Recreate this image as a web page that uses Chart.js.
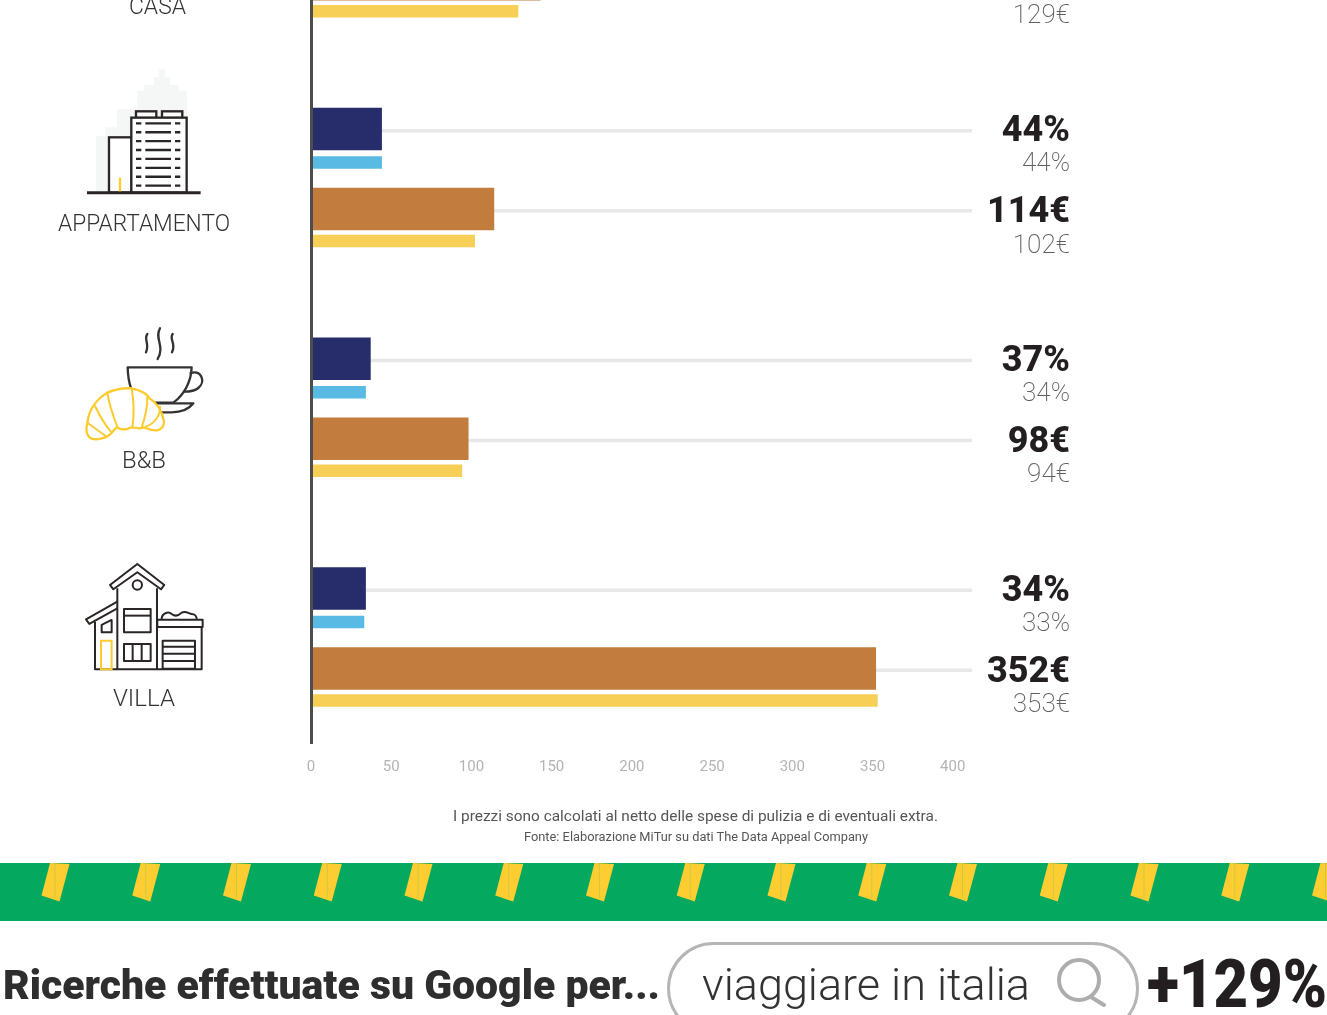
<!DOCTYPE html>
<html>
<head>
<meta charset="utf-8">
<title>Strutture ricettive</title>
<script src="https://cdn.jsdelivr.net/npm/chart.js@4"></script>
<style>
html, body { margin: 0; padding: 0; background: #fff; }
#page { position: relative; width: 1327px; height: 1015px; overflow: hidden; }
#chart { position: absolute; left: 0; top: 0; }
#art { position: absolute; left: 0; top: 0; pointer-events: none; font-family: Roboto, sans-serif; }
</style>
</head>
<body>
<div id="page">
<canvas id="chart" width="1327" height="1015" style="width:1327px;height:1015px"></canvas>
<svg id="art" width="1327" height="1015" viewBox="0 0 1327 1015" xmlns="http://www.w3.org/2000/svg">
  <!-- group names -->
  <g fill="#333" font-size="24" font-weight="300" text-anchor="start">
    <text x="129" y="14" textLength="57" lengthAdjust="spacingAndGlyphs">CASA</text>
    <text x="58" y="231" textLength="172" lengthAdjust="spacingAndGlyphs">APPARTAMENTO</text>
    <text x="122" y="468" textLength="44" lengthAdjust="spacingAndGlyphs">B&amp;B</text>
    <text x="113" y="706" textLength="62" lengthAdjust="spacingAndGlyphs">VILLA</text>
  </g>

  <!-- apartment icon -->
  <g transform="translate(0,0) scale(0.3333)">
    <path fill="#f5f7f6" d="M288 578V408H316V382H351V327H411V272H433V254H462V231H476V208H495V231H510V254H537V272H561V578Z"/>
    <g fill="#fff" stroke="#2b2626" stroke-width="7">
      <rect x="327" y="412" width="68" height="166"/>
      <rect x="408" y="334" width="61" height="20"/>
      <rect x="486" y="334" width="61" height="20"/>
      <rect x="394" y="353" width="166" height="225"/>
    </g>
    <path d="M261 578H602" stroke="#2b2626" stroke-width="9" fill="none"/>
    <path d="M360 533V574" stroke="#fecb2f" stroke-width="7" fill="none"/>
    <g id="floors" stroke="#2b2626" stroke-width="7" fill="none"></g>
  </g>

  <!-- coffee and croissant icon -->
  <g transform="translate(60,310) scale(0.3333)" fill="none" stroke-width="7" stroke-linecap="round" stroke-linejoin="round">
    <g stroke="#333">
      <path d="M262 72C250 88 270 100 258 127"/>
      <path d="M300 55C282 84 316 108 293 147"/>
      <path d="M338 72C326 88 350 100 336 127"/>
      <path d="M203 172H395C394 215 372 255 340 278H240C215 255 204 215 203 172Z"/>
      <path d="M392 189C425 180 438 215 415 234C402 245 385 245 372 245"/>
      <path d="M265 280H400C385 300 360 307 335 307H300"/>
    </g>
    <path stroke="#fecb2f" stroke-width="7" fill="#fff" d="M82 340C85 305 105 270 142 248C165 238 195 234 215 235C240 240 262 252 268 265C285 275 305 295 312 335C312 355 295 365 275 360L250 352L240 355L215 352C200 360 185 362 170 352L155 368C140 385 105 395 88 382C78 372 78 355 82 340Z"/>
    <g stroke="#fecb2f" stroke-width="6">
      <path d="M142 248C148 285 160 320 172 350"/>
      <path d="M215 235C222 275 222 320 217 352"/>
      <path d="M262 262C262 295 255 325 245 352"/>
      <path d="M105 288C118 315 135 345 155 368"/>
      <path d="M85 340C100 352 120 365 135 377"/>
      <path d="M300 290C302 315 285 340 258 350"/>
    </g>
  </g>

  <!-- villa icon -->
  <g transform="translate(60,310) scale(0.3333)" fill="none" stroke="#2b2626" stroke-width="6" stroke-linejoin="round">
    <path d="M150 825L232 762L313 825L303 838L232 787L160 838Z"/>
    <circle cx="232" cy="825" r="14"/>
    <path d="M172 835V1078M291 835V1078"/>
    <path d="M172 875L78 928L88 942L172 895"/>
    <path d="M105 935V1078H425V951"/>
    <path d="M125 945L155 930V967H125Z"/>
    <rect x="123" y="992" width="32" height="86" stroke="#fecb2f"/>
    <rect x="192" y="897" width="80" height="70"/>
    <path d="M192 917H272"/>
    <rect x="192" y="1002" width="80" height="51"/>
    <path d="M218 1002V1053M245 1002V1053"/>
    <rect x="292" y="929" width="136" height="22"/>
    <rect x="308" y="992" width="97" height="84"/>
    <path d="M308 1010H405M308 1031H405M308 1053H405"/>
    <path d="M305 927C305 910 325 903 335 912C345 920 355 918 365 908C378 902 388 912 395 912C405 912 410 920 410 927"/>
  </g>

  <!-- footnotes -->
  <g text-anchor="start" fill="#555">
    <text x="453" y="821" font-size="15.5" textLength="485" lengthAdjust="spacingAndGlyphs">I prezzi sono calcolati al netto delle spese di pulizia e di eventuali extra.</text>
    <text x="524" y="841" font-size="12.5" textLength="344" lengthAdjust="spacingAndGlyphs">Fonte: Elaborazione MiTur su dati The Data Appeal Company</text>
  </g>

  <!-- green ribbon -->
  <rect x="0" y="863" width="1327" height="58" fill="#04a85f"/>
  <g id="flags"></g>

  <!-- search line -->
  <text x="3" y="999" font-size="40" font-weight="900" fill="#2e2e2e" textLength="657" lengthAdjust="spacingAndGlyphs">Ricerche effettuate su Google per...</text>
  <rect x="668.5" y="943.5" width="469" height="90" rx="45" fill="#fff" stroke="#b5b5b5" stroke-width="3"/>
  <text x="702" y="1000" font-size="44" font-weight="300" fill="#333" textLength="328" lengthAdjust="spacingAndGlyphs">viaggiare in italia</text>
  <circle cx="1079" cy="980" r="20" fill="none" stroke="#adadad" stroke-width="4"/>
  <path d="M1091 997L1104 1005" stroke="#adadad" stroke-width="4" stroke-linecap="round" fill="none"/>
  <text x="1147" y="1007" font-size="66" font-weight="900" fill="#231f20" textLength="180" lengthAdjust="spacingAndGlyphs">+129%</text>
</svg>
</div>
<script>
// Dati
const structures = ['CASA', 'APPARTAMENTO', 'B&B', 'VILLA'];
const occupancy = [null, 44, 37, 34];
const occupancyPrev = [null, 44, 34, 33];
const price = [143, 114, 98, 352];
const pricePrev = [129, 102, 94, 353];
const xTicks = [0, 50, 100, 150, 200, 250, 300, 350, 400];

const points = values => values.map((v, i) => ({ x: v, y: i }));
const groupTicks = axis => { axis.ticks = structures.map((s, i) => ({ value: i })); };

// one hidden axis per row of the group, so each row sits at its own distance
const plotHeight = 743;
const groupStep = 229.75;
const rowAxis = firstCentre => {
    const min = 1 - firstCentre / groupStep;
    return {
        type: 'linear',
        axis: 'y',
        reverse: true,
        offset: false,
        bounds: 'data',
        min: min,
        max: min + plotHeight / groupStep,
        display: false,
        afterBuildTicks: groupTicks
    };
};

// window rows of the apartment icon
let floors = '';
for (let i = 0; i < 8; i++) {
    const y = 370 + i * 26.7;
    floors += 'M408 ' + y + 'H424M436 ' + y + 'H513M525 ' + y + 'H541';
}
document.getElementById('floors').innerHTML = '<path d="' + floors + '"/>';

// yellow flags on the ribbon
let flags = '';
for (let i = 0; i < 15; i++) {
    const dx = i * 90.75;
    flags += '<polygon fill="#fecd31" transform="translate(' + dx + ',0)" points="50,863 69.5,864 59.5,901.5 41.5,895.5"/>' +
        '<path transform="translate(' + dx + ',0)" d="M55 863V898" stroke="#b9c84a" stroke-width="0.7"/>';
}
document.getElementById('flags').innerHTML = flags;

const valueLabels = {
    id: 'valueLabels',
    // grey tracks behind the big bars
    beforeDatasetsDraw(chart) {
        const { ctx, chartArea } = chart;
        ctx.save();
        ctx.fillStyle = '#e8e8e8';
        [0, 1].forEach(d => chart.getDatasetMeta(d).data.forEach((bar, i) => {
            if (chart.data.datasets[d].data[i].x === null) return;
            ctx.fillRect(chartArea.left, bar.y, chartArea.right - chartArea.left, 3.5);
        }));
        ctx.restore();
    },
    // numbers at the right of every bar
    afterDatasetsDraw(chart) {
        const { ctx } = chart;
        ctx.save();
        ctx.textAlign = 'right';
        ctx.textBaseline = 'middle';
        chart.data.datasets.forEach((ds, d) => {
            chart.getDatasetMeta(d).data.forEach((bar, i) => {
                const v = ds.data[i].x;
                if (v === null) return;
                ctx.font = ds.big ? '800 36px Roboto' : '200 26px Roboto';
                ctx.fillStyle = ds.big ? '#231f20' : '#5f5f5f';
                ctx.fillText(v + ds.unit, 1070, bar.y + ds.labelShift);
            });
        });
        ctx.restore();
    }
};

new Chart(document.getElementById('chart'), {
    type: 'bar',
    plugins: [valueLabels],
    data: {
        labels: structures,
        datasets: [
            { label: 'Occupazione', data: points(occupancy), unit: '%', big: true, labelShift: 3, backgroundColor: '#272d6b', yAxisID: 'y', barThickness: 42 },
            { label: 'Prezzo', data: points(price), unit: '€', big: true, labelShift: 4, backgroundColor: '#c27c3d', yAxisID: 'yPrice', barThickness: 42 },
            { label: 'Occupazione prec.', data: points(occupancyPrev), unit: '%', big: false, labelShift: 2, backgroundColor: '#59bae4', yAxisID: 'yOccPrev', barThickness: 12 },
            { label: 'Prezzo prec.', data: points(pricePrev), unit: '€', big: false, labelShift: 5, backgroundColor: '#f8cf56', yAxisID: 'yPricePrev', barThickness: 12 }
        ]
    },
    options: {
        indexAxis: 'y',
        responsive: false,
        animation: false,
        grouped: false,
        layout: { padding: { left: 311, right: 355, top: 0, bottom: 237 } },
        plugins: { legend: { display: false }, tooltip: { enabled: false } },
        scales: {
            x: {
                type: 'linear',
                position: 'bottom',
                min: 0,
                max: 412,
                bounds: 'data',
                grid: { display: false },
                border: { display: false },
                afterBuildTicks: axis => { axis.ticks = xTicks.map(value => ({ value })); },
                afterFit: axis => { axis.height = 35; },
                ticks: { padding: 7, color: '#b4b4b4', font: { family: 'Roboto', size: 15, weight: '400' }, maxRotation: 0, autoSkip: false }
            },
            y: Object.assign(rowAxis(129), {
                display: true,
                position: 'left',
                grid: { display: false },
                border: { display: true, color: '#4d4d4d', width: 3, z: 1 },
                afterFit: axis => { axis.width = 0; },
                ticks: { display: false }
            }),
            yPrice: rowAxis(209),
            yOccPrev: rowAxis(162.5),
            yPricePrev: rowAxis(241)
        }
    }
});
</script>
</body>
</html>
